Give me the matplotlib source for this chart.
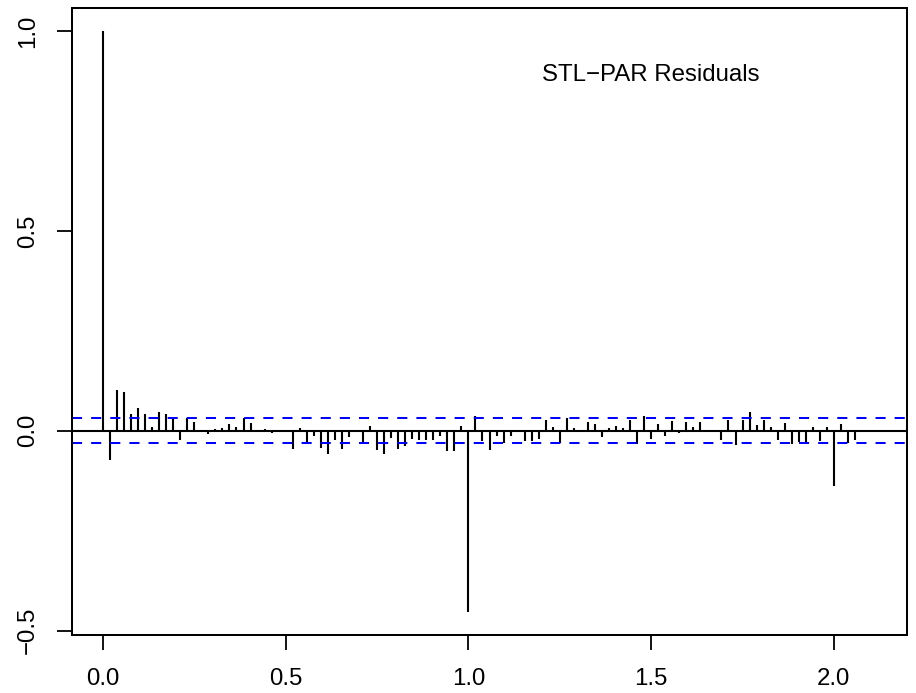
import numpy as np
import matplotlib

matplotlib.use("Agg")
import matplotlib.pyplot as plt

# ACF of STL-PAR residuals, weekly data (frequency 52), lags 0..110
frequency = 52
acf_values = [
    1.000, -0.072, 0.102, 0.098, 0.042, 0.058, 0.042, 0.010, 0.048, 0.042,
    0.035, -0.023, 0.032, 0.021, 0.001, -0.008, 0.004, 0.008, 0.016, 0.010,
    0.033, 0.020, 0.001, 0.004, -0.005, 0.003, 0.003, -0.045, 0.006, -0.031,
    -0.012, -0.043, -0.058, -0.022, -0.045, -0.016, 0.002, -0.033, 0.013, -0.048,
    -0.057, -0.017, -0.045, -0.038, -0.021, -0.023, -0.023, -0.023, -0.013, -0.051,
    -0.050, 0.013, -0.453, 0.038, -0.026, -0.049, -0.012, -0.031, -0.012, 0.001,
    -0.025, -0.026, -0.020, 0.027, 0.009, -0.031, 0.033, 0.007, 0.001, 0.023,
    0.017, -0.015, 0.007, 0.013, 0.008, 0.028, -0.033, 0.038, -0.020, 0.018,
    -0.012, 0.024, -0.005, 0.023, 0.010, 0.021, 0.001, -0.004, -0.024, 0.027,
    -0.035, 0.027, 0.048, 0.015, 0.026, 0.009, -0.023, 0.019, -0.033, -0.027,
    -0.031, 0.009, -0.025, 0.009, -0.138, 0.017, -0.031, -0.022, -0.004, -0.004,
    -0.003,
]
conf_limit = 0.031
label = "STL\u2212PAR Residuals"
x_ticks = [0.0, 0.5, 1.0, 1.5, 2.0]
y_ticks = [-0.5, 0.0, 0.5, 1.0]


def _fmt(v: float) -> str:
    return f"{v:.1f}".replace("-", "\u2212")


acf = np.array(acf_values)
lags = np.arange(len(acf)) / frequency

plt.rcParams["font.family"] = ["Liberation Sans", "DejaVu Sans"]
plt.rcParams["font.size"] = 17.3

fig = plt.figure(figsize=(9.16, 6.93), dpi=100)
ax = fig.add_axes([0.0786, 0.0837, 0.9116, 0.9048])

ax.vlines(lags, 0, acf, color="black", linewidth=1.5)
ax.axhline(0, color="black", linewidth=1.5)
for lim in (conf_limit, -conf_limit):
    ax.axhline(lim, color="blue", linewidth=1.45, linestyle=(0, (5, 4.5)))

ax.text(1.5, 0.89, label, ha="center", va="center", fontsize=17.3)

# R-style 4% padding
x_max = lags[-1]
ax.set_xlim(-0.04 * x_max, 1.04 * x_max)
y_lo = min(acf.min(), -conf_limit)
y_hi = max(acf.max(), conf_limit)
y_pad = 0.04 * (y_hi - y_lo)
ax.set_ylim(y_lo - y_pad, y_hi + y_pad)

ax.set_xticks(x_ticks)
ax.set_xticklabels([_fmt(v) for v in x_ticks])
ax.set_yticks(y_ticks)
ax.set_yticklabels([_fmt(v) for v in y_ticks], rotation=90, va="center")
ax.tick_params(direction="out", length=10.8, width=1.3, pad=13)
for spine in ax.spines.values():
    spine.set_linewidth(1.45)

fig.savefig("out.png", dpi=100)
